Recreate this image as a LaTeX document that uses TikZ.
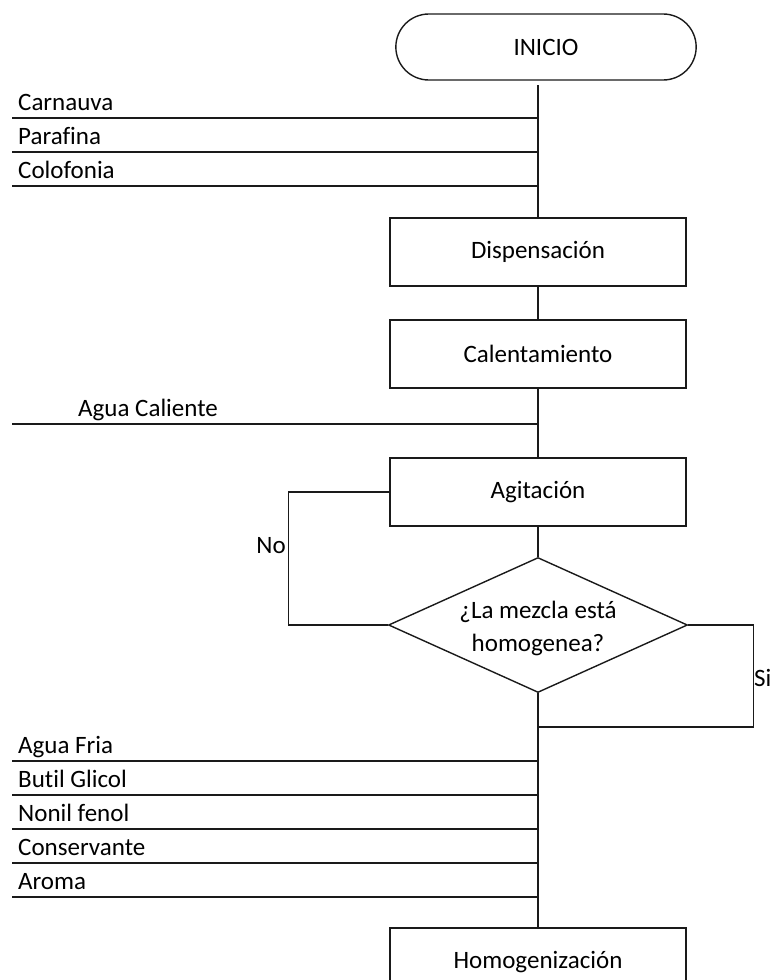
\documentclass[tikz,border=0pt]{standalone}
\usepackage{fontspec}
\setmainfont{Carlito}[Ligatures=NoCommon]
\usepackage{xcolor}
\usepackage{tikz}
\usetikzlibrary{shapes.geometric,shapes.misc}
\definecolor{PFInk}{HTML}{1A1A1A}

\begin{document}
\begin{tikzpicture}[
  x=1pt,
  y=-1pt,
  terminal/.style={
    rounded rectangle,
    draw=PFInk,
    line width=1.4pt,
    minimum width=307pt,
    minimum height=66pt,
    font=\fontsize{25}{33}\selectfont
  },
  process/.style={
    rectangle,
    draw=PFInk,
    line width=1.4pt,
    minimum width=296pt,
    minimum height=68pt,
    font=\fontsize{25}{33}\selectfont
  },
  decision/.style={
    diamond,
    draw=PFInk,
    line width=1.4pt,
    minimum width=299pt,
    minimum height=135pt,
    inner sep=0pt
  },
  question/.style={
    align=center,
    yshift=-3pt,
    font=\fontsize{25}{33}\selectfont
  },
  feed/.style={
    anchor=base west,
    xshift=6pt,
    yshift=8pt,
    inner sep=0pt,
    font=\fontsize{25}{30}\selectfont
  },
  answer/.style={inner sep=1pt, font=\fontsize{25}{30}\selectfont},
  flow/.style={line width=1.2pt, draw=PFInk},
  inlet/.style={line width=1.8pt, draw=PFInk},
]
\useasboundingbox (0,0) rectangle (772,980);
\clip (0,0) rectangle (772,980);

\node[terminal] (inicio) at (546,47) {INICIO};
\node[process] (dispensacion) at (538,252) {Dispensación};
\node[process] (calentamiento) at (538,354) {Calentamiento};
\node[process] (agitacion) at (538,492) {Agitación};
\node[decision,label={[question]center:{¿La mezcla está\\homogenea?}}] (homogenea) at (538,625) {};
\node[process] (homogenizacion) at (538,962) {Homogenización};

\coordinate (inicio-out) at (538,85);
\coordinate (si-join) at (538,727);

\coordinate (carnauva-in) at (12,118);
\coordinate (parafina-in) at (12,152);
\coordinate (colofonia-in) at (12,186);
\coordinate (agua-caliente-in) at (12,424);
\coordinate (agua-fria-in) at (12,761);
\coordinate (butil-in) at (12,795);
\coordinate (nonil-in) at (12,829);
\coordinate (conservante-in) at (12,863);
\coordinate (aroma-in) at (12,897);

\node[feed] (carnauva) at (carnauva-in) {Carnauva};
\node[feed] (parafina) at (parafina-in) {Parafina};
\node[feed] (colofonia) at (colofonia-in) {Colofonia};
\node[feed,xshift=60pt] (agua-caliente) at (agua-caliente-in) {Agua Caliente};
\node[feed] (agua-fria) at (agua-fria-in) {Agua Fria};
\node[feed] (butil) at (butil-in) {Butil Glicol};
\node[feed] (nonil) at (nonil-in) {Nonil fenol};
\node[feed] (conservante) at (conservante-in) {Conservante};
\node[feed] (aroma) at (aroma-in) {Aroma};

\node[answer,anchor=east] (no) at (287,546) {No};
\node[answer,anchor=west] (si) at (753,678) {Si};

% main line
\draw[flow] (inicio-out) -- (dispensacion.north);
\draw[flow] (dispensacion.south) -- (calentamiento.north);
\draw[flow] (calentamiento.south) -- (agitacion.north);
\draw[flow] (agitacion.south) -- (homogenea.north);
\draw[flow] (homogenea.south) -- (homogenizacion.north);

% loops
\draw[flow] (homogenea.west) -- ++(-99,0) |- (agitacion.west);
\draw[flow] (homogenea.east) -- ++(65,0) |- (si-join);

% inlets
\draw[inlet] (carnauva-in) -- (carnauva-in -| inicio-out);
\draw[inlet] (parafina-in) -- (parafina-in -| inicio-out);
\draw[inlet] (colofonia-in) -- (colofonia-in -| inicio-out);
\draw[inlet] (agua-caliente-in) -- (agua-caliente-in -| inicio-out);
\draw[inlet] (agua-fria-in) -- (agua-fria-in -| inicio-out);
\draw[inlet] (butil-in) -- (butil-in -| inicio-out);
\draw[inlet] (nonil-in) -- (nonil-in -| inicio-out);
\draw[inlet] (conservante-in) -- (conservante-in -| inicio-out);
\draw[inlet] (aroma-in) -- (aroma-in -| inicio-out);
\end{tikzpicture}
\end{document}
